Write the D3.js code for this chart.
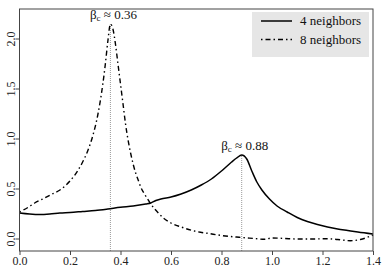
<!DOCTYPE html>
<html><head><meta charset="utf-8">
<script src="https://cdn.jsdelivr.net/npm/d3@7"></script>
<style>
html,body{margin:0;padding:0;background:#fff;}
svg{display:block;}
</style></head>
<body>
<svg id="c" width="382" height="270"></svg>
<script>
const xTicks = [0, 0.2, 0.4, 0.6, 0.8, 1.0, 1.2, 1.4];
const yTicks = [0, 0.5, 1.0, 1.5, 2.0];
const seriesNames = ["4 neighbors", "8 neighbors"];
const betaX4 = [0.00,0.04,0.08,0.12,0.16,0.20,0.25,0.30,0.35,0.40,0.45,0.50,0.52,0.54,0.56,0.60,0.64,0.68,0.72,0.76,0.80,0.84,0.86,0.88,0.90,0.92,0.94,0.96,0.99,1.02,1.06,1.10,1.14,1.18,1.22,1.26,1.30,1.34,1.40];
const susc4  = [0.26,0.25,0.245,0.25,0.26,0.265,0.275,0.285,0.30,0.317,0.33,0.35,0.36,0.385,0.40,0.42,0.45,0.49,0.54,0.60,0.68,0.77,0.81,0.84,0.80,0.68,0.57,0.49,0.40,0.33,0.27,0.215,0.175,0.145,0.12,0.10,0.085,0.07,0.05];
const betaX8 = [0.00,0.03,0.06,0.10,0.13,0.16,0.20,0.23,0.25,0.27,0.29,0.31,0.33,0.34,0.35,0.36,0.37,0.38,0.39,0.40,0.41,0.42,0.43,0.44,0.45,0.46,0.47,0.48,0.50,0.52,0.55,0.57,0.60,0.64,0.70,0.75,0.80,0.87,0.93,0.97,1.00,1.05,1.10,1.15,1.22,1.26,1.31,1.35,1.40];
const susc8  = [0.27,0.31,0.36,0.41,0.45,0.49,0.58,0.68,0.77,0.88,1.03,1.24,1.55,1.75,1.98,2.15,2.10,1.95,1.75,1.55,1.35,1.15,0.99,0.86,0.75,0.66,0.59,0.52,0.43,0.35,0.26,0.21,0.16,0.12,0.075,0.055,0.035,0.017,0.005,-0.003,0.01,0.005,0.0,0.0,0.003,-0.005,-0.017,-0.005,0.04];
const criticals = [{b:0.36, v:2.15, label:"0.36"}, {b:0.88, v:0.84, label:"0.88"}];

const FONT = "'Liberation Serif', 'Times New Roman', Times, 'DejaVu Serif', serif";
const svg = d3.select("#c");
const L = 19.5, R = 373, T = 9, B = 251;
const x = d3.scaleLinear().domain([0, 1.4]).range([L, R]);
const y = d3.scaleLinear().domain([-0.12, 2.3]).range([B, T]);

svg.selectAll("line.crit").data(criticals).join("line")
  .attr("x1", d => x(d.b)).attr("x2", d => x(d.b))
  .attr("y1", B).attr("y2", d => y(d.v))
  .attr("stroke", "#9a9a9a").attr("stroke-width", 1).attr("stroke-dasharray", "1,1");

const line = d3.line().x(d => x(d[0])).y(d => y(d[1])).curve(d3.curveMonotoneX);
svg.append("path").datum(betaX4.map((b,i) => [b, susc4[i]]))
  .attr("d", line).attr("fill", "none").attr("stroke", "#000").attr("stroke-width", 1.5);
svg.append("path").datum(betaX8.map((b,i) => [b, susc8[i]]))
  .attr("d", line).attr("fill", "none").attr("stroke", "#000").attr("stroke-width", 1.4)
  .attr("stroke-dasharray", "1.5,3,5,3");

svg.append("rect").attr("x", L).attr("y", T).attr("width", R - L).attr("height", B - T)
  .attr("fill", "none").attr("stroke", "#444").attr("stroke-width", 1);

const xAxis = d3.axisBottom(x).tickValues(xTicks).tickSize(4).tickSizeOuter(0).tickFormat(d3.format(".1f"));
const gx = svg.append("g").attr("transform", `translate(0,${B})`).call(xAxis);
gx.select(".domain").remove();
gx.selectAll("line").attr("stroke", "#444");
gx.selectAll("text").attr("font-size", 12).attr("fill", "#222").attr("dy", "0.6em");

const yAxis = d3.axisLeft(y).tickValues(yTicks).tickSize(4).tickSizeOuter(0).tickFormat(d3.format(".1f"));
const gy = svg.append("g").attr("transform", `translate(${L},0)`).call(yAxis);
gy.select(".domain").remove();
gy.selectAll("line").attr("stroke", "#444");
gy.selectAll("text").attr("font-size", 12).attr("fill", "#222")
  .attr("x", null).attr("dy", null).attr("text-anchor", "middle")
  .attr("transform", d => `translate(-9,${y(d)}) rotate(-90)`).attr("y", 4);
gy.selectAll(".tick").attr("transform", null);
gy.selectAll(".tick line").attr("y1", d => y(d)).attr("y2", d => y(d));

const lab = svg.selectAll("text.crit").data(criticals).join("text")
  .attr("x", d => x(d.b) + 3).attr("y", d => y(d.v) - 5)
  .attr("text-anchor", "middle").attr("font-size", 13).attr("fill", "#111");
lab.append("tspan").text("β");
lab.append("tspan").text("c").attr("font-size", 9).attr("dy", 2);
lab.append("tspan").text(d => " ≈ " + d.label).attr("dy", -2);

const lg = svg.append("g");
lg.append("rect").attr("x", 252).attr("y", 12).attr("width", 117).attr("height", 45).attr("fill", "#e6e6e6");
const rows = [{dash: null, w: 1.5}, {dash: "1.5,3,5,3", w: 1.4}];
rows.forEach((r, i) => {
  const yy = 21 + i * 18.5;
  lg.append("line").attr("x1", 261).attr("x2", 292).attr("y1", yy).attr("y2", yy)
    .attr("stroke", "#000").attr("stroke-width", r.w).attr("stroke-dasharray", r.dash);
  lg.append("text").attr("x", 300).attr("y", yy + 4).attr("font-size", 13).attr("fill", "#111").text(seriesNames[i]);
});

svg.selectAll("g").attr("font-family", null);
svg.selectAll("text").style("font-family", FONT).attr("font-family", FONT);
</script>
</body></html>
